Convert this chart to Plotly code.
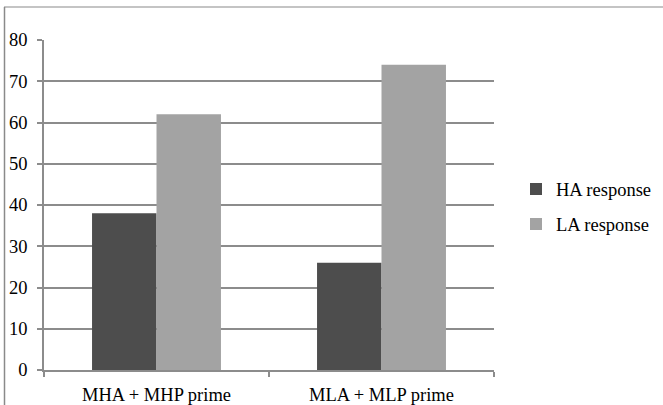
import plotly.graph_objects as go

categories = ["MHA + MHP prime", "MLA + MLP prime"]
ha_response = [38, 26]
la_response = [62, 74]
y_ticks = [0, 10, 20, 30, 40, 50, 60, 70, 80]

W, H = 663, 405
L, R, T, B = 44, 169, 40, 35
pw, ph = W - L - R, H - T - B

def px_x(px):
    return (px - L) / pw

def px_y(py):
    return (H - B - py) / ph

font = dict(family="Liberation Serif, Times New Roman, serif", size=18.5, color="#000000")

fig = go.Figure()
fig.add_trace(go.Bar(x=categories, y=ha_response, name="HA response",
                     marker=dict(color="#4d4d4d", line=dict(width=0)),
                     legendgroup="a"))
fig.add_trace(go.Bar(x=categories, y=la_response, name="LA response",
                     marker=dict(color="#a3a3a3", line=dict(width=0)),
                     legendgroup="b"))

fig.update_layout(
    width=W, height=H,
    margin=dict(l=L, r=R, t=T, b=B, pad=0, autoexpand=False),
    paper_bgcolor="white", plot_bgcolor="white",
    font=font,
    barmode="group", bargap=0.427, bargroupgap=0,
    legend=dict(xref="container", x=516 / W, xanchor="left",
                yref="container", y=1 - 207 / H, yanchor="middle",
                font=font, tracegroupgap=8, bgcolor="rgba(0,0,0,0)"),
    xaxis=dict(showline=True, linecolor="#8c8c8c", linewidth=1.5,
               ticks="outside", tickson="boundaries", ticklen=5,
               tickcolor="#8c8c8c", tickwidth=1.5, showgrid=False,
               ticklabelstandoff=7, fixedrange=True, automargin=False),
    yaxis=dict(range=[0, 80], tickvals=y_ticks, showline=True,
               linecolor="#8c8c8c", linewidth=1.5, ticks="outside",
               ticklen=5, tickcolor="#8c8c8c", tickwidth=1.5,
               showgrid=True, gridcolor="#8c8c8c", gridwidth=1.5,
               zeroline=False, ticklabelstandoff=6, fixedrange=True,
               automargin=False),
    shapes=[
        dict(type="line", xref="paper", yref="paper",
             x0=px_x(4), x1=px_x(663), y0=px_y(7), y1=px_y(7),
             line=dict(color="#c4c4c4", width=2)),
        dict(type="line", xref="paper", yref="paper",
             x0=px_x(4.5), x1=px_x(4.5), y0=px_y(7), y1=px_y(405),
             line=dict(color="#8a8a8a", width=1.5)),
    ],
)

fig.write_html(
    "out.html",
    config={"displayModeBar": False},
    post_script="document.body.style.margin='0';document.body.style.overflow='hidden';",
)
